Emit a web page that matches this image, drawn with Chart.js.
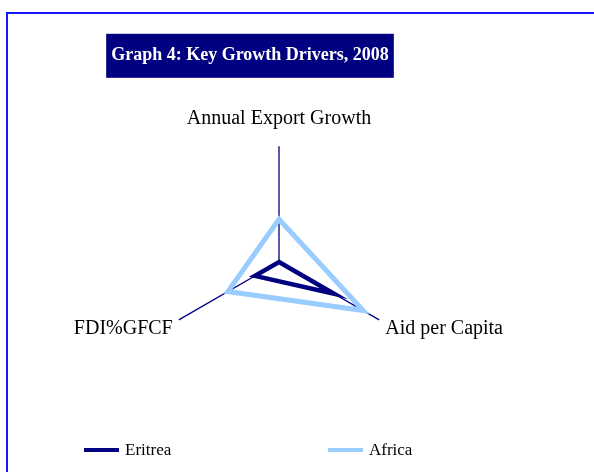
<!DOCTYPE html>
<html lang="en">
<head>
  <meta charset="UTF-8">
  <title>Graph 4: Key Growth Drivers, 2008</title>
  <script src="https://cdn.jsdelivr.net/npm/chart.js"></script>
  <style>
    body {
      margin: 0;
      background: #fff;
    }
    #wrap {
      position: relative;
      width: 594px;
      height: 472px;
    }
    #frame {
      position: absolute;
      left: 6px;
      top: 12px;
      right: 0;
      bottom: 0;
      border-left: 2px solid #1414ff;
      border-top: 2px solid #1414ff;
    }
    canvas {
      position: absolute;
      left: 0;
      top: 0;
    }
  </style>
</head>
<body>
  <div id="wrap">
    <div id="frame"></div>
    <canvas id="radarChart" width="594" height="472"></canvas>
  </div>

  <script>
    const titleText = 'Graph 4: Key Growth Drivers, 2008';
    const axisLabels = ['Annual Export Growth', 'Aid per Capita', 'FDI%GFCF'];
    const seriesNames = ['Eritrea', 'Africa'];
    const eritreaValues = [0, 55, 24];
    const africaValues = [37, 84, 51];

    const serif = '"Liberation Serif", "Times New Roman", serif';

    // dark navy box behind the title text
    const titleBox = {
      id: 'titleBox',
      beforeDraw(chart) {
        const tb = chart.titleBlock;
        const ctx = chart.ctx;
        ctx.save();
        ctx.font = 'bold 18px ' + serif;
        const w = ctx.measureText(titleText).width;
        const cx = (tb.left + tb.right) / 2;
        const cy = tb.top + tb.options.padding.top + 18 * 1.2 / 2;
        ctx.fillStyle = '#000080';
        ctx.fillRect(cx - w / 2 - 5, cy - 22, w + 10, 44);
        ctx.restore();
      }
    };

    // legend with line samples, spread like the original
    const lineLegend = {
      id: 'lineLegend',
      afterDraw(chart) {
        const ctx = chart.ctx;
        const starts = [84, 328];
        const y = 450;
        ctx.save();
        ctx.font = '17px ' + serif;
        ctx.textBaseline = 'middle';
        chart.data.datasets.forEach((ds, i) => {
          const x = starts[i];
          ctx.strokeStyle = ds.borderColor;
          ctx.lineWidth = 4;
          ctx.beginPath();
          ctx.moveTo(x, y);
          ctx.lineTo(x + 35, y);
          ctx.stroke();
          ctx.fillStyle = '#000';
          ctx.fillText(ds.label, x + 41, y + 1);
        });
        ctx.restore();
      }
    };

    const ctx = document.getElementById('radarChart').getContext('2d');

    new Chart(ctx, {
      type: 'radar',
      data: {
        labels: axisLabels,
        datasets: [{
          label: seriesNames[0],
          data: eritreaValues,
          borderColor: '#000080',
          borderWidth: 4.5,
          fill: false,
          pointRadius: 0,
          pointHoverRadius: 0
        }, {
          label: seriesNames[1],
          data: africaValues,
          borderColor: '#99ccff',
          borderWidth: 5,
          fill: false,
          pointRadius: 0,
          pointHoverRadius: 0
        }]
      },
      options: {
        responsive: false,
        animation: false,
        layout: {
          padding: { left: -14, right: 80, top: 0, bottom: 68 }
        },
        elements: {
          line: { tension: 0 }
        },
        scales: {
          r: {
            min: 0,
            max: 100,
            grid: { display: false },
            ticks: { display: false },
            angleLines: { color: '#000080', lineWidth: 1.3 },
            pointLabels: {
              color: '#000',
              font: (c) => ({
                family: serif,
                size: 20,
                lineHeight: c.index === 0 ? '0px' : '10px'
              }),
              padding: (c) => c.index === 0 ? 28 : 7
            }
          }
        },
        plugins: {
          legend: { display: false },
          tooltip: { enabled: false },
          title: {
            display: true,
            text: titleText,
            color: '#fff',
            font: { family: serif, size: 18, weight: 'bold' },
            padding: { top: 45, bottom: 27 }
          },
          // empty box on the left, keeps the plot right of the title centre
          subtitle: {
            display: true,
            position: 'left',
            text: '',
            font: { size: 10, lineHeight: 1 },
            padding: { top: 35, bottom: 35 }
          }
        }
      },
      plugins: [titleBox, lineLegend]
    });
  </script>
</body>
</html>
